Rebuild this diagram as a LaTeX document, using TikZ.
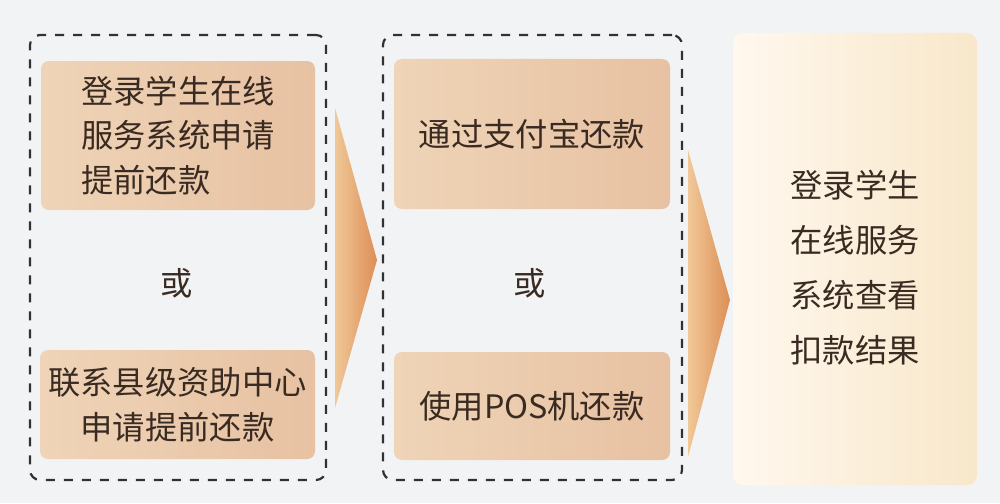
\documentclass[tikz,border=0pt]{standalone}
\usepackage{fontspec}
\setmainfont{Noto Sans CJK SC}
\usetikzlibrary{positioning}
\definecolor{bgfill}{HTML}{F2F3F5}
\definecolor{peachL}{HTML}{EFD4B7}
\definecolor{peachR}{HTML}{E7C1A2}
\definecolor{creamL}{HTML}{FFF8EE}
\definecolor{creamR}{HTML}{F8E7CA}
\definecolor{arrowL}{HTML}{F0C898}
\definecolor{arrowR}{HTML}{DD8E55}
\definecolor{inkbrown}{HTML}{3A2B22}
\definecolor{dashgray}{HTML}{2E3238}
\begin{document}
\begin{tikzpicture}[x=1pt,y=-1pt,
      optbox/.style={rounded corners=8pt,left color=peachL,right color=peachR,
        inner sep=0pt,text=inkbrown,font=\fontsize{32.3}{44.5}\selectfont},
      groupbox/.style={draw=dashgray,line width=2.2pt,dash pattern=on 9pt off 9pt,
        rounded corners=10pt,inner sep=0pt},
      orlabel/.style={text=inkbrown,font=\fontsize{32.3}{40}\selectfont}]
      \useasboundingbox (0,0) rectangle (1000,503);
      \fill[bgfill] (0,0) rectangle (1000,503);
      % first step
      \node[groupbox,minimum width=296pt,minimum height=445pt] (grpA) at (178,257.5) {};
      \node[optbox,minimum width=274pt,minimum height=149pt,align=left] (online) at (178,135.5)
        {登录学生在线\\服务系统申请\\提前还款};
      \node[orlabel] (orA) at (177,283) {或};
      \node[optbox,minimum width=275pt,minimum height=109pt,align=center] (county) at (177.5,404.5)
        {联系县级资助中心\\申请提前还款};
      % second step
      \node[groupbox,minimum width=299pt,minimum height=445pt] (grpB) at (532.5,257.5) {};
      \node[optbox,minimum width=276pt,minimum height=150pt] (alipay) at (532,134) {通过支付宝还款};
      \node[orlabel] (orB) at (530,283) {或};
      \node[optbox,minimum width=276pt,minimum height=108pt] (pos) at (532,406) {使用POS机还款};
      % chevrons
      \shade[left color=arrowL,right color=arrowR] (335,108) -- (377,260) -- (335,408) -- cycle;
      \shade[left color=arrowL,right color=arrowR] (688,150) -- (730,300) -- (688,457) -- cycle;
      % result
      \node[rounded corners=10pt,left color=creamL,right color=creamR,inner sep=0pt,
        minimum width=244pt,minimum height=452pt] (result) at (855,259) {};
      \node[align=center,text=inkbrown,font=\fontsize{32.3}{55}\selectfont] (resulttext) at (855,268)
        {登录学生\\在线服务\\系统查看\\扣款结果};
\end{tikzpicture}
\end{document}
